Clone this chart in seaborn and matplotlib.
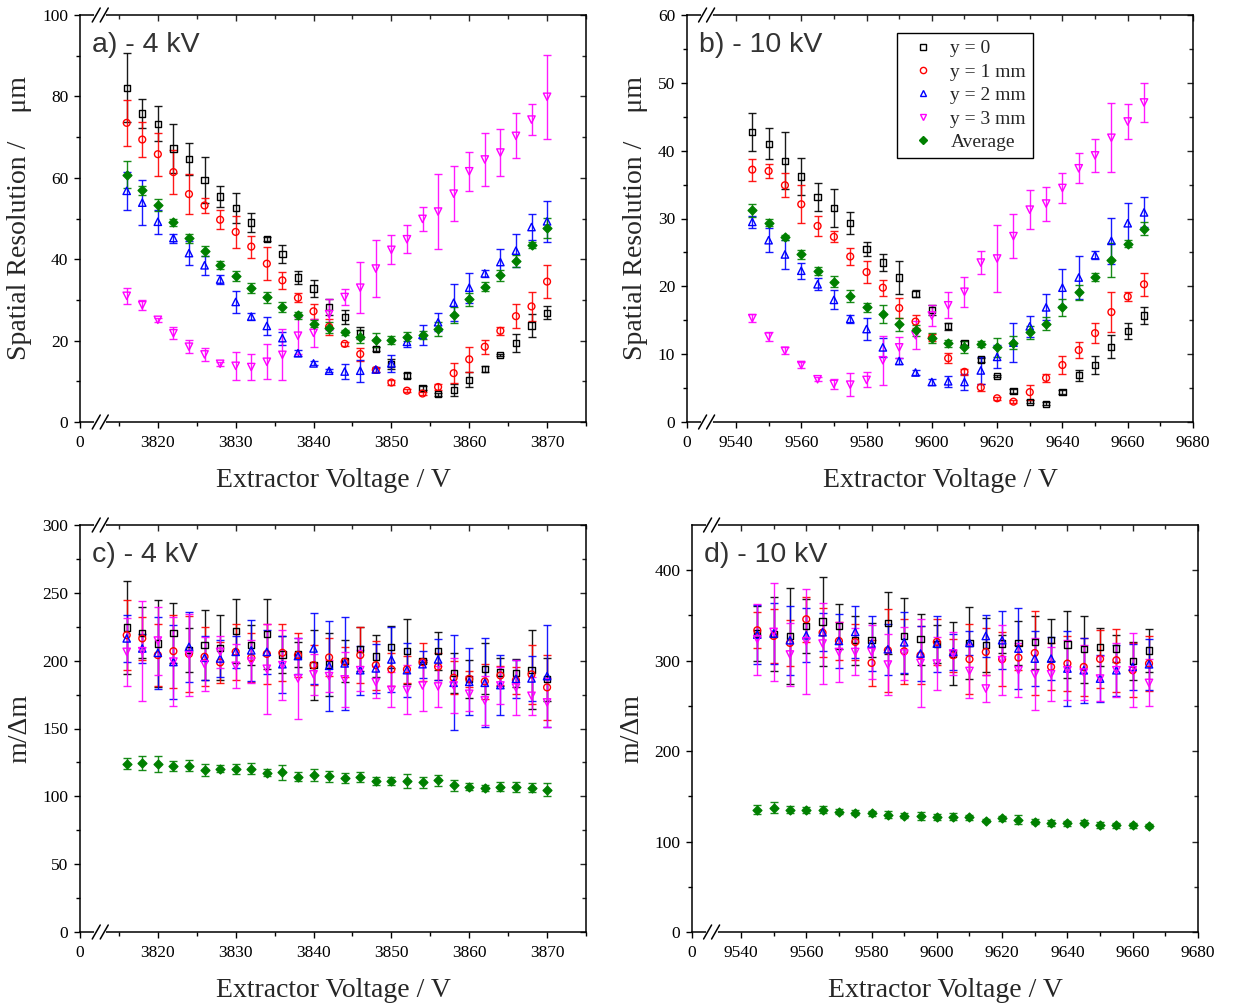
import numpy as np
import pandas as pd
import matplotlib
matplotlib.use("Agg")
import matplotlib.pyplot as plt
import matplotlib.transforms as mtrans
from matplotlib.lines import Line2D
import seaborn as sns

# ---------------- data ----------------
V4 = [3816, 3818, 3820, 3822, 3824, 3826, 3828, 3830, 3832, 3834, 3836, 3838, 3840, 3842,
      3844, 3846, 3848, 3850, 3852, 3854, 3856, 3858, 3860, 3862, 3864, 3866, 3868, 3870]
V10 = [9545, 9550, 9555, 9560, 9565, 9570, 9575, 9580, 9585, 9590, 9595, 9600, 9605,
       9610, 9615, 9620, 9625, 9630, 9635, 9640, 9645, 9650, 9655, 9660, 9665]

series_labels = ["y = 0", "y = 1 mm", "y = 2 mm", "y = 3 mm", "Average"]

# (a) spatial resolution, -4 kV
res4_y0 = [82.1, 75.8, 73.3, 67.2, 64.6, 59.5, 55.4, 52.6, 49.0, 45.0, 41.2, 35.5, 32.8, 28.3,
           25.8, 21.8, 17.9, 14.3, 11.4, 8.4, 6.8, 7.8, 10.4, 13.0, 16.4, 19.5, 23.7, 26.8]
res4_y0_err = [8.5, 3.5, 4.3, 6.1, 3.9, 5.7, 2.6, 3.7, 2.3, 0.5, 2.2, 1.6, 2.1, 2.0,
               1.7, 1.5, 0.5, 1.3, 0.7, 0.5, 0.3, 1.5, 1.8, 0.7, 0.3, 2.2, 2.9, 1.6]
res4_y1 = [73.5, 69.4, 65.8, 61.4, 56.0, 53.2, 49.7, 46.7, 43.1, 38.9, 34.8, 30.5, 27.2, 23.4,
           19.2, 16.7, 12.8, 9.7, 7.7, 7.0, 8.6, 12.0, 15.4, 18.5, 22.4, 26.0, 28.4, 34.5]
res4_y1_err = [5.7, 4.4, 5.3, 5.4, 4.9, 1.9, 2.3, 4.0, 2.7, 4.0, 2.0, 1.1, 1.8, 2.0,
               0.5, 1.6, 0.5, 0.5, 0.3, 0.3, 0.8, 2.5, 3.0, 1.7, 1.0, 2.9, 3.6, 4.1]
res4_y2 = [56.8, 53.9, 49.2, 45.2, 41.5, 38.5, 35.0, 29.5, 25.9, 23.6, 20.6, 16.9, 14.4, 12.6,
           12.4, 12.6, 12.9, 14.4, 19.7, 21.4, 24.5, 29.3, 33.0, 36.5, 39.3, 42.1, 47.9, 49.3]
res4_y2_err = [4.7, 5.6, 3.0, 1.1, 2.9, 2.3, 1.0, 2.7, 0.8, 2.2, 1.6, 0.7, 0.5, 0.4,
               1.9, 2.7, 0.5, 2.0, 1.3, 2.5, 2.2, 4.5, 3.7, 0.8, 3.1, 4.0, 3.3, 5.0]
res4_y3 = [31.0, 28.7, 25.1, 21.8, 18.5, 16.6, 14.3, 13.8, 13.5, 14.8, 16.5, 21.2, 21.9, 26.5,
           30.7, 33.0, 37.7, 42.3, 44.9, 49.9, 51.7, 56.1, 61.6, 64.5, 66.2, 70.3, 74.3, 79.9]
res4_y3_err = [1.9, 1.2, 0.5, 1.5, 1.6, 1.6, 0.5, 3.5, 3.1, 4.3, 6.3, 4.6, 3.4, 3.8,
               2.0, 6.3, 7.0, 3.6, 3.4, 3.0, 9.3, 6.8, 4.8, 6.5, 5.8, 5.5, 3.8, 10.3]
res4_avg = [60.8, 56.9, 53.3, 49.1, 45.1, 42.0, 38.6, 35.8, 32.9, 30.6, 28.3, 26.2, 24.2, 23.2,
            22.0, 21.0, 20.2, 20.2, 21.0, 21.4, 22.9, 26.3, 30.2, 33.2, 36.0, 39.5, 43.5, 47.6]
res4_avg_err = [3.4, 1.2, 1.5, 0.9, 1.0, 1.2, 0.9, 1.2, 1.2, 1.4, 1.2, 0.8, 0.9, 1.4,
                0.6, 1.5, 1.7, 1.0, 1.0, 1.0, 1.7, 1.9, 1.6, 1.1, 1.4, 1.5, 0.7, 2.5]

# (b) spatial resolution, -10 kV
res10_y0 = [42.8, 41.0, 38.5, 36.2, 33.2, 31.6, 29.3, 25.5, 23.5, 21.3, 18.9, 16.5, 14.1,
            11.7, 9.2, 6.8, 4.6, 3.0, 2.7, 4.4, 6.9, 8.4, 11.1, 13.4, 15.7]
res10_y0_err = [2.8, 2.3, 4.2, 2.7, 2.1, 2.8, 1.6, 1.1, 1.3, 2.5, 0.5, 0.7, 0.5,
                0.3, 0.3, 0.2, 0.3, 0.2, 0.2, 0.3, 0.8, 1.3, 1.7, 1.2, 1.3]
res10_y1 = [37.2, 37.0, 34.9, 32.1, 28.9, 27.3, 24.4, 22.1, 19.8, 16.8, 14.8, 12.4, 9.4,
            7.4, 5.1, 3.5, 3.0, 4.4, 6.5, 8.4, 10.6, 13.1, 16.2, 18.5, 20.3]
res10_y1_err = [1.6, 1.1, 1.8, 2.8, 1.5, 0.8, 1.2, 1.6, 1.2, 1.5, 1.0, 0.5, 0.7,
                0.4, 0.5, 0.2, 0.2, 1.1, 0.6, 1.3, 1.2, 1.5, 2.9, 0.7, 1.7]
res10_y2 = [29.5, 26.8, 24.7, 22.3, 20.3, 18.0, 15.2, 13.7, 11.0, 9.0, 7.3, 5.9, 6.0,
            5.9, 7.6, 9.6, 11.7, 14.1, 16.9, 19.8, 21.3, 24.6, 26.7, 29.3, 30.9]
res10_y2_err = [0.9, 1.8, 2.2, 1.2, 0.9, 1.4, 0.6, 1.6, 1.4, 0.5, 0.4, 0.5, 0.8,
                1.2, 2.0, 1.7, 2.9, 1.5, 1.9, 2.7, 3.2, 0.6, 3.4, 3.0, 2.2]
res10_y3 = [15.3, 12.6, 10.5, 8.4, 6.3, 5.6, 5.5, 6.2, 9.1, 11.0, 12.8, 15.7, 17.2,
            19.2, 23.5, 24.1, 27.4, 31.3, 32.2, 34.5, 37.4, 39.3, 41.9, 44.3, 47.1]
res10_y3_err = [0.6, 0.6, 0.5, 0.4, 0.3, 0.8, 1.7, 1.1, 3.6, 1.5, 2.1, 1.5, 1.9,
                2.2, 1.7, 4.9, 3.2, 2.9, 2.5, 2.2, 2.2, 2.4, 5.1, 2.6, 2.9]
res10_avg = [31.2, 29.4, 27.2, 24.7, 22.2, 20.7, 18.6, 16.9, 15.9, 14.4, 13.5, 12.4, 11.6,
             11.0, 11.5, 11.0, 11.7, 13.2, 14.5, 16.9, 19.1, 21.4, 23.9, 26.3, 28.5]
res10_avg_err = [1.0, 0.5, 0.4, 0.6, 0.6, 0.8, 0.9, 0.7, 1.3, 1.0, 0.8, 0.7, 0.5,
                 0.9, 0.5, 1.4, 1.0, 0.9, 1.0, 1.2, 1.1, 0.6, 2.5, 0.5, 1.0]

# (c) mass resolving power, -4 kV
mr4_y0 = [224.5, 220.6, 212.7, 220.3, 207.8, 211.7, 209.5, 222.0, 211.5, 219.6, 204.6, 204.6,
          196.7, 197.2, 199.7, 208.5, 203.1, 210.2, 207.0, 199.7, 207.0, 190.8, 186.6, 194.0,
          191.3, 190.8, 193.3, 186.2]
mr4_y0_err = [34.5, 19.0, 32.0, 22.0, 16.0, 26.0, 24.0, 23.6, 14.5, 25.6, 13.5, 9.0,
              25.6, 23.4, 15.5, 16.3, 15.5, 15.3, 23.9, 1.0, 13.8, 14.8, 14.0, 18.7,
              10.3, 10.3, 29.2, 15.7]
mr4_y1 = [218.8, 216.4, 204.1, 207.0, 205.0, 202.9, 198.7, 206.5, 202.1, 205.0, 205.8, 204.1,
          196.7, 202.4, 199.2, 204.1, 196.7, 193.6, 193.6, 198.9, 195.5, 187.4, 186.6, 184.7,
          189.1, 185.7, 189.9, 180.3]
mr4_y1_err = [25.7, 16.0, 22.6, 27.0, 28.0, 21.6, 15.0, 20.7, 18.0, 22.0, 21.0, 16.0,
              15.0, 14.0, 11.0, 20.9, 18.0, 12.0, 10.0, 14.0, 10.0, 12.0, 6.0, 13.0,
              7.0, 10.0, 22.0, 24.0]
mr4_y2 = [216.4, 209.0, 205.8, 199.0, 210.2, 202.1, 201.6, 206.5, 207.6, 206.5, 197.4, 203.4,
          209.0, 196.2, 198.0, 193.0, 194.3, 200.9, 193.0, 197.4, 200.9, 183.7, 184.4, 183.7,
          182.0, 186.6, 186.9, 188.6]
mr4_y2_err = [17.6, 11.0, 26.6, 27.0, 25.7, 16.0, 14.0, 12.0, 22.4, 16.4, 21.0, 13.0,
              26.0, 33.0, 34.0, 18.0, 18.0, 24.0, 20.0, 10.0, 15.0, 35.0, 24.6, 32.7,
              22.0, 14.0, 16.5, 37.6]
mr4_y3 = [206.5, 207.0, 214.8, 199.3, 204.1, 197.4, 206.5, 196.2, 199.3, 194.0, 196.7, 186.9,
          189.9, 188.6, 186.2, 193.0, 184.2, 178.5, 178.5, 181.7, 181.0, 181.7, 175.6, 170.7,
          181.7, 180.2, 174.1, 169.2]
mr4_y3_err = [25.0, 37.0, 25.0, 33.0, 30.0, 20.0, 12.0, 16.0, 16.0, 33.0, 26.0, 30.0,
              15.0, 12.0, 20.0, 15.0, 12.0, 13.0, 18.0, 19.0, 15.0, 20.0, 13.0, 18.0,
              14.0, 20.0, 14.0, 18.0]
mr4_avg = [123.9, 124.7, 123.7, 122.4, 122.7, 119.3, 120.3, 120.3, 120.3, 117.3, 117.8, 114.6,
           115.8, 114.8, 113.4, 114.3, 111.4, 111.1, 111.4, 110.4, 111.9, 108.2, 107.0, 106.2,
           107.2, 107.0, 106.5, 105.0]
mr4_avg_err = [4.0, 5.0, 6.0, 3.5, 4.0, 4.5, 2.5, 3.5, 4.0, 2.5, 5.5, 3.0,
               4.5, 4.0, 3.5, 3.5, 3.0, 3.0, 5.0, 4.0, 4.0, 4.0, 2.5, 2.5,
               3.0, 3.5, 3.0, 4.5]

# (d) mass resolving power, -10 kV
mr10_y0 = [330.0, 329.6, 327.3, 338.4, 343.2, 338.0, 322.6, 322.6, 341.4, 327.0, 323.7, 318.2,
           307.9, 319.6, 317.0, 318.9, 319.6, 320.3, 322.6, 317.8, 312.6, 314.8, 313.4, 299.7, 311.2]
mr10_y0_err = [30, 41, 53, 30, 49, 25, 27, 19, 34, 42, 28, 21, 35, 40, 30, 10, 24, 29, 23,
               37, 37, 21, 15, 21, 24]
mr10_y1 = [333.6, 327.3, 319.6, 345.8, 331.0, 321.8, 320.7, 297.5, 311.5, 310.4, 306.0, 320.7,
           306.0, 301.6, 309.6, 301.6, 303.4, 308.5, 293.1, 296.8, 293.1, 301.9, 300.5, 289.4, 296.8]
mr10_y1_err = [20, 30, 25, 25, 27, 21, 20, 25, 46, 36, 32, 25, 18, 39, 26, 30, 14, 46, 26,
               30, 32, 32, 35, 30, 30]
mr10_y2 = [328.8, 330.0, 322.6, 328.1, 331.4, 321.8, 331.8, 318.9, 312.6, 320.3, 307.9, 318.9,
           309.6, 319.6, 327.3, 322.6, 313.4, 302.3, 302.3, 291.3, 289.4, 280.2, 289.4, 293.1, 296.0]
mr10_y2_err = [33, 34, 38, 30, 21, 30, 29, 30, 28, 34, 30, 31, 20, 13, 23, 32, 45, 30, 24,
               41, 36, 26, 28, 25, 28]
mr10_y3 = [323.7, 331.8, 306.8, 321.4, 318.9, 309.6, 309.6, 309.6, 295.7, 307.9, 297.5, 296.8,
           307.9, 288.6, 269.2, 300.5, 289.4, 285.0, 285.0, 289.4, 286.9, 280.2, 289.4, 289.4, 275.4]
mr10_y3_err = [39, 54, 35, 58, 45, 33, 26, 30, 34, 29, 49, 29, 24, 30, 15, 39, 30, 40, 30,
               33, 30, 25, 30, 41, 26]
mr10_avg = [135.3, 137.6, 135.3, 134.9, 135.3, 133.1, 132.0, 131.3, 129.8, 128.7, 128.3, 127.2,
            127.6, 126.8, 123.2, 125.7, 124.3, 122.1, 120.6, 120.2, 120.9, 118.4, 118.0, 118.0, 116.9]
mr10_avg_err = [5, 6, 4, 3, 4, 3, 3, 3, 4, 3, 4, 3, 4, 3, 2, 3, 5, 3, 3, 3, 3, 3, 3, 3, 2]

# ---------------- style ----------------
sns.set_theme(style="ticks")
plt.rcParams["font.family"] = ["Liberation Serif", "DejaVu Serif"]
plt.rcParams["axes.linewidth"] = 1.1

COLORS = ["black", "#ff0000", "#0000ff", "#ff00ff", "#008000"]
MARKERS = ["s", "o", "^", "v", "D"]
SIZES = [20, 24, 28, 28, 20]
FILLED = [False, False, False, False, True]

W, H = 1240, 1007
fig = plt.figure(figsize=(W / 100, H / 100), dpi=100)


def add_axes(left_px, top_px, w_px=506, h_px=407):
    return fig.add_axes([left_px / W, 1 - (top_px + h_px) / H, w_px / W, h_px / H])


def draw_series(ax, V, vals_list, errs_list):
    for i, (vals, errs) in enumerate(zip(vals_list, errs_list)):
        c = COLORS[i]
        ax.errorbar(V, vals, yerr=errs, fmt="none", ecolor=c, elinewidth=1.0,
                    capsize=3, capthick=1.0, zorder=2 + i * 0.1, alpha=0.9)
        df = pd.DataFrame({"V": V, "val": vals})
        sns.scatterplot(data=df, x="V", y="val", ax=ax, marker=MARKERS[i], s=SIZES[i],
                        color=c, facecolor=c if FILLED[i] else "none", edgecolor=c,
                        linewidth=1.0, zorder=3 + i * 0.1, legend=False)


def style_axes(ax, xlim, xmajor, xlabels, xminor, ylim, ymajor, yminor, xbreak,
               ylabel, panel_text):
    ax.set_xlim(*xlim)
    ax.set_ylim(*ylim)
    ax.set_xticks(xmajor)
    ax.set_xticklabels(xlabels)
    ax.set_xticks(xminor, minor=True)
    ax.set_yticks(ymajor)
    ax.set_yticks(yminor, minor=True)
    ax.tick_params(which="both", direction="out", width=1.0, labelsize=12.5, colors="black")
    ax.tick_params(which="major", length=4.5)
    ax.tick_params(which="minor", length=2.8)
    ax.tick_params(axis="x", pad=5)
    ax.tick_params(axis="y", pad=4)
    for sp in ax.spines.values():
        sp.set_visible(True)
        sp.set_color("black")
        sp.set_linewidth(1.1)
    ax.set_xlabel("Extractor Voltage / V", fontsize=20, labelpad=12)
    ax.set_ylabel(ylabel, fontsize=20, labelpad=7)
    ax.grid(False)
    ax.set_facecolor("white")

    # mirrored inward ticks on top and right
    top = ax.secondary_xaxis("top")
    top.set_xticks([t for t in xmajor if t != xlim[0]])
    top.set_xticks(xminor, minor=True)
    top.tick_params(which="both", direction="in", width=1.0, labeltop=False, labelbottom=False)
    top.tick_params(which="major", length=4.5)
    top.tick_params(which="minor", length=2.8)
    for sp in top.spines.values():
        sp.set_visible(False)
    right = ax.secondary_yaxis("right")
    right.set_yticks(ymajor)
    right.set_yticks(yminor, minor=True)
    right.tick_params(which="both", direction="in", width=1.0, labelright=False, labelleft=False)
    right.tick_params(which="major", length=4.5)
    right.tick_params(which="minor", length=2.8)
    for sp in right.spines.values():
        sp.set_visible(False)

    # axis break marks on top and bottom spines
    base = mtrans.blended_transform_factory(ax.transData, ax.transAxes)
    px = mtrans.Affine2D().scale(fig.dpi / 100.0)
    for yf in (0.0, 1.0):
        tr = px + mtrans.ScaledTranslation(xbreak, yf, base)
        gap = Line2D([-4, 4], [0, 0], transform=tr, color="white", lw=3.0,
                     clip_on=False, zorder=20)
        ax.add_artist(gap)
        for dx in (-4, 4):
            sl = Line2D([dx - 4, dx + 4], [-7, 7], transform=tr, color="black", lw=1.1,
                        clip_on=False, zorder=21)
            ax.add_artist(sl)

    ax.text(0.024, 0.927, panel_text, transform=ax.transAxes, fontsize=20.5,
            family=["Liberation Sans", "DejaVu Sans"], color="#333333", va="center", ha="left")


# ---------------- panel a ----------------
ax_a = add_axes(80, 15)
draw_series(ax_a, V4, [res4_y0, res4_y1, res4_y2, res4_y3, res4_avg],
            [res4_y0_err, res4_y1_err, res4_y2_err, res4_y3_err, res4_avg_err])
style_axes(ax_a, (3810, 3875), [3810, 3820, 3830, 3840, 3850, 3860, 3870],
           ["0", "3820", "3830", "3840", "3850", "3860", "3870"],
           [3815, 3825, 3835, 3845, 3855, 3865, 3875],
           (0, 100), [0, 20, 40, 60, 80, 100], [10, 30, 50, 70, 90], 3812.6,
           "Spatial Resolution /    μm", "a) - 4 kV")

# ---------------- panel b ----------------
ax_b = add_axes(687, 15)
draw_series(ax_b, V10, [res10_y0, res10_y1, res10_y2, res10_y3, res10_avg],
            [res10_y0_err, res10_y1_err, res10_y2_err, res10_y3_err, res10_avg_err])
style_axes(ax_b, (9525, 9680), [9525, 9540, 9560, 9580, 9600, 9620, 9640, 9660, 9680],
           ["0", "9540", "9560", "9580", "9600", "9620", "9640", "9660", "9680"],
           [9550, 9570, 9590, 9610, 9630, 9650, 9670],
           (0, 60), [0, 10, 20, 30, 40, 50, 60], [5, 15, 25, 35, 45, 55], 9531,
           "Spatial Resolution /    μm", "b) - 10 kV")

handles = []
for i, lab in enumerate(series_labels):
    handles.append(Line2D([], [], linestyle="none", marker=MARKERS[i], color=COLORS[i],
                          markerfacecolor=COLORS[i] if FILLED[i] else "none",
                          markeredgecolor=COLORS[i], markersize=4.5, markeredgewidth=1.0,
                          label=lab))
leg = ax_b.legend(handles=handles, loc="upper left", bbox_to_anchor=(0.415, 0.956),
                  borderaxespad=0, frameon=True, fancybox=False, framealpha=1,
                  edgecolor="black", fontsize=14, handlelength=2.0, handletextpad=0.4,
                  borderpad=0.35, labelspacing=0.3)
leg.get_frame().set_linewidth(1.0)

# ---------------- panel c ----------------
ax_c = add_axes(80, 525)
draw_series(ax_c, V4, [mr4_y0, mr4_y1, mr4_y2, mr4_y3, mr4_avg],
            [mr4_y0_err, mr4_y1_err, mr4_y2_err, mr4_y3_err, mr4_avg_err])
style_axes(ax_c, (3810, 3875), [3810, 3820, 3830, 3840, 3850, 3860, 3870],
           ["0", "3820", "3830", "3840", "3850", "3860", "3870"],
           [3815, 3825, 3835, 3845, 3855, 3865, 3875],
           (0, 300), [0, 50, 100, 150, 200, 250, 300], [25, 75, 125, 175, 225, 275], 3812.6,
           "m/Δm", "c) - 4 kV")

# ---------------- panel d ----------------
ax_d = add_axes(692, 525)
draw_series(ax_d, V10, [mr10_y0, mr10_y1, mr10_y2, mr10_y3, mr10_avg],
            [mr10_y0_err, mr10_y1_err, mr10_y2_err, mr10_y3_err, mr10_avg_err])
style_axes(ax_d, (9525, 9680), [9525, 9540, 9560, 9580, 9600, 9620, 9640, 9660, 9680],
           ["0", "9540", "9560", "9580", "9600", "9620", "9640", "9660", "9680"],
           [9550, 9570, 9590, 9610, 9630, 9650, 9670],
           (0, 450), [0, 100, 200, 300, 400], [50, 150, 250, 350], 9531,
           "m/Δm", "d) - 10 kV")

fig.savefig("out.png", dpi=100, facecolor="white")
